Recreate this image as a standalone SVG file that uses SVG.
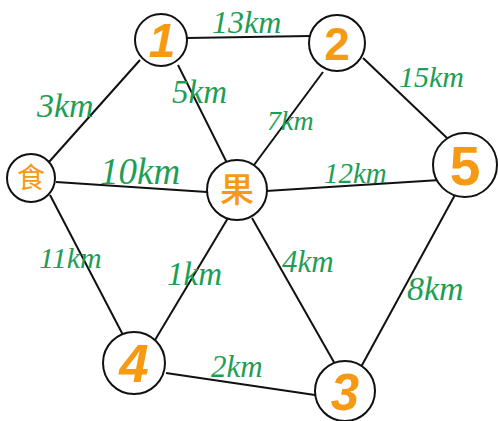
<svg xmlns="http://www.w3.org/2000/svg" width="498" height="421" viewBox="0 0 498 421">
<style>
.e{stroke:#111;stroke-width:2;fill:none}
.n{fill:#fff;stroke:#111;stroke-width:2}
.l{font-family:"Liberation Serif",serif;font-style:italic;fill:#1e9e55}
.d{font-family:"Liberation Sans",Arial,sans-serif;font-weight:bold;fill:#f59a12;text-anchor:middle}
.c{font-family:"Noto Sans CJK SC",sans-serif;fill:#f59a12;text-anchor:middle}
</style>
<rect width="498" height="421" fill="#fff"/>
<g id="connectors">
<line class="e" x1="187" y1="38" x2="310" y2="36"/>
<line class="e" x1="140" y1="60" x2="49" y2="162"/>
<line class="e" x1="178" y1="65" x2="227" y2="163"/>
<line class="e" x1="56" y1="182" x2="207" y2="192"/>
<line class="e" x1="323" y1="72" x2="254" y2="165"/>
<line class="e" x1="363" y1="58" x2="447" y2="138"/>
<line class="e" x1="266" y1="191" x2="440" y2="180"/>
<line class="e" x1="456" y1="193" x2="361" y2="367"/>
<line class="e" x1="252" y1="218" x2="335" y2="364"/>
<line class="e" x1="228" y1="218" x2="155" y2="340"/>
<line class="e" x1="50" y1="195" x2="123" y2="335"/>
<line class="e" x1="166" y1="373" x2="315" y2="395"/>
</g>
<g id="labels">
<text class="l" x="212" y="33" style="font-size:32px">13km</text>
<text class="l" x="37" y="117" style="font-size:34px">3km</text>
<text class="l" x="172" y="103" style="font-size:33px">5km</text>
<text class="l" x="267" y="130" style="font-size:28px">7km</text>
<text class="l" x="399" y="87" style="font-size:30px">15km</text>
<text class="l" x="100" y="184" style="font-size:37px">10km</text>
<text class="l" x="324" y="183" style="font-size:29px">12km</text>
<text class="l" x="39" y="268" style="font-size:30px">11km</text>
<text class="l" x="167" y="285" style="font-size:33px">1km</text>
<text class="l" x="282" y="272" style="font-size:31px">4km</text>
<text class="l" x="407" y="300" style="font-size:34px">8km</text>
<text class="l" x="211" y="377" style="font-size:31px">2km</text>
</g>
<g id="node-1"><circle class="n" cx="161" cy="40" r="26"/><text class="d" x="162" y="57" style="font-size:48px;font-style:italic">1</text></g>
<g id="node-2"><circle class="n" cx="337" cy="43" r="28"/><text class="d" x="337" y="60" style="font-size:46px">2</text></g>
<g id="node-5"><circle class="n" cx="465" cy="165" r="32"/><text class="d" x="465" y="185" style="font-size:55px">5</text></g>
<g id="node-shi"><circle class="n" cx="31" cy="178" r="24"/><text class="c" x="31" y="188" style="font-size:28px">食</text></g>
<g id="node-guo"><circle class="n" cx="237" cy="190" r="30"/><text class="c" x="237" y="202" style="font-size:34px;font-weight:500">果</text></g>
<g id="node-4"><circle class="n" cx="134" cy="363" r="31"/><text class="d" x="134" y="382" style="font-size:53px;font-style:italic">4</text></g>
<g id="node-3"><circle class="n" cx="345" cy="391" r="30"/><text class="d" x="345" y="410" style="font-size:51px;font-style:italic">3</text></g>
</svg>
